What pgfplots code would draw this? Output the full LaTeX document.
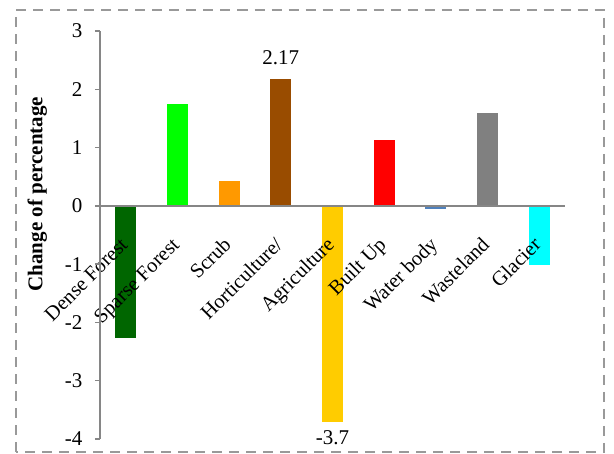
\documentclass[border=0pt]{standalone}
\usepackage{fontspec}
\setmainfont{Liberation Serif}
\usepackage{pgfplots}
\pgfplotsset{compat=1.18}
\definecolor{cDense}{HTML}{006600}
\definecolor{cSparse}{HTML}{00FF00}
\definecolor{cScrub}{HTML}{FF9900}
\definecolor{cHort}{HTML}{994C00}
\definecolor{cAgri}{HTML}{FFCC00}
\definecolor{cBuilt}{HTML}{FF0000}
\definecolor{cWater}{HTML}{4F81BD}
\definecolor{cWaste}{HTML}{808080}
\definecolor{cGlacier}{HTML}{00FFFF}
\definecolor{axgray}{HTML}{868686}
\definecolor{bordergray}{HTML}{999999}
\tikzset{catlab/.style={font=\fontsize{20.5}{22}\selectfont, xshift=3pt, yshift=-40pt, rotate=45, anchor=base east, inner sep=0pt}}
\begin{document}
\begin{tikzpicture}
\useasboundingbox (-100pt,-15pt) rectangle (514pt,439pt);
\draw[bordergray, line width=2pt, dash pattern=on 10pt off 7pt] (-84pt,-13pt) rectangle (504pt,428.5pt);
\begin{axis}[
  scale only axis, width=465pt, height=408pt,
  xmin=-0.5, xmax=8.5, ymin=-4, ymax=3,
  axis x line=middle, axis y line=left,
  axis line style={-, draw=axgray, line width=1.5pt},
  axis on top, clip=false,
  xtick=\empty,
  ytick={-4,-3,-2,-1,0,1,2,3},
  yticklabels={-4,-3,-2,-1,0,1,2,3},
  yticklabel style={font=\fontsize{21}{23}\selectfont, xshift=-9pt},
  tick align=outside, ytick pos=left,
  major tick length=5pt,
  y tick style={draw=axgray, line width=1.5pt},
  ylabel={Change of percentage},
  ylabel style={font=\bfseries\fontsize{21}{23}\selectfont, at={(axis description cs:-0.135,0.6)}, anchor=center},
  ybar, bar width=21pt,
]
\addplot[fill=cDense, draw=none, bar shift=0pt] coordinates {(0,-2.26)};
\addplot[fill=cSparse, draw=none, bar shift=0pt] coordinates {(1,1.75)};
\addplot[fill=cScrub, draw=none, bar shift=0pt] coordinates {(2,0.43)};
\addplot[fill=cHort, draw=none, bar shift=0pt] coordinates {(3,2.17)};
\addplot[fill=cAgri, draw=none, bar shift=0pt] coordinates {(4,-3.7)};
\addplot[fill=cBuilt, draw=none, bar shift=0pt] coordinates {(5,1.13)};
\addplot[fill=cWater, draw=none, bar shift=0pt] coordinates {(6,-0.05)};
\addplot[fill=cWaste, draw=none, bar shift=0pt] coordinates {(7,1.6)};
\addplot[fill=cGlacier, draw=none, bar shift=0pt] coordinates {(8,-1.02)};
\node[catlab] at (axis cs:0,0) {Dense Forest};
\node[catlab] at (axis cs:1,0) {Sparse Forest};
\node[catlab] at (axis cs:2,0) {Scrub};
\node[catlab] at (axis cs:3,0) {Horticulture/};
\node[catlab] at (axis cs:4,0) {Agriculture};
\node[catlab] at (axis cs:5,0) {Built Up};
\node[catlab] at (axis cs:6,0) {Water body};
\node[catlab] at (axis cs:7,0) {Wasteland};
\node[catlab] at (axis cs:8,0) {Glacier};
\node[font=\fontsize{21}{23}\selectfont, anchor=center, yshift=22pt] at (axis cs:3,2.17) {2.17};
\node[font=\fontsize{21}{23}\selectfont, anchor=center, yshift=-16pt] at (axis cs:4,-3.7) {-3.7};
\end{axis}
\end{tikzpicture}
\end{document}
